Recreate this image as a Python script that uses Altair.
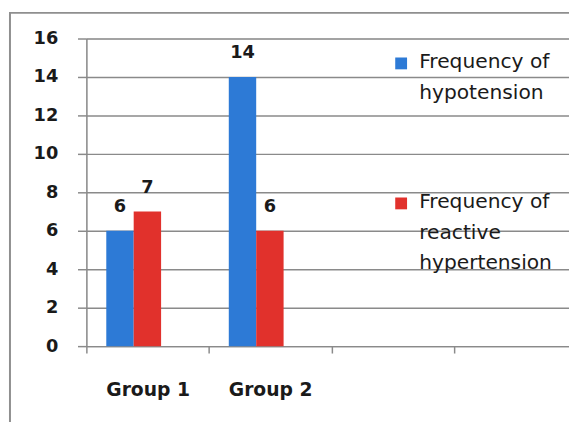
import altair as alt
import pandas as pd

# ---- data ----
groups = ["Group 1", "Group 2"]
x_domain = ["Group 1", "Group 2", " ", "  "]  # two empty category slots
series = ["Frequency of hypotension", "Frequency of reactive hypertension"]
hypotension = [6, 14]
reactive_hypertension = [7, 6]
y_ticks = [0, 2, 4, 6, 8, 10, 12, 14, 16]
colors = ["#2D7AD6", "#E1312C"]

rows = []
for g, a, b in zip(groups, hypotension, reactive_hypertension):
    rows.append({"group": g, "series": series[0], "value": a})
    rows.append({"group": g, "series": series[1], "value": b})
df = pd.DataFrame(rows)

FONT = "DejaVu Sans"
GRAY = "#8a8a8a"

x_enc = alt.X(
    "group:N",
    scale=alt.Scale(domain=x_domain, range=[0, 497], paddingInner=0, paddingOuter=0),
    axis=alt.Axis(
        title=None, labelAngle=0, tickBand="extent", grid=False,
        labelFont=FONT, labelFontSize=19, labelFontWeight="bold", labelColor="#1a1a1a",
        labelPadding=28, tickSize=7, tickColor=GRAY, tickWidth=1.5,
        domainColor=GRAY, domainWidth=1.5, labelBaseline="top",
    ),
)
# third (empty) offset slot reproduces the left-shifted cluster of the original
xoff_enc = alt.XOffset(
    "series:N",
    scale=alt.Scale(domain=series + ["_gap"], paddingInner=0, paddingOuter=0.735, align=0.494),
)
y_enc = alt.Y(
    "value:Q",
    scale=alt.Scale(domain=[0, 16], nice=False),
    axis=alt.Axis(
        title=None, values=y_ticks, tickCount=9, labelOverlap=False,
        grid=True, gridColor=GRAY, gridWidth=1.5,
        labelFont=FONT, labelFontSize=18, labelFontWeight="bold", labelColor="#1a1a1a",
        labelPadding=20, tickSize=9, tickColor=GRAY, tickWidth=1.5,
        domainColor=GRAY, domainWidth=1.5,
    ),
)

legend = alt.Legend(
    title=None, orient="none", legendX=309, legendY=20, padding=0,
    labelFont=FONT, labelFontSize=20.5, labelColor="#1a1a1a", labelLimit=400,
    labelOffset=8, labelBaseline="alphabetic", rowPadding=90,
    symbolType="M-1,-1.833H1V0.167H-1Z", symbolSize=144, symbolStrokeWidth=0,
    labelExpr=(
        "datum.label == 'Frequency of hypotension' ? ['Frequency of', 'hypotension']"
        " : ['Frequency of', 'reactive', 'hypertension']"
    ),
)

bars = alt.Chart(df).mark_bar().encode(
    x=x_enc,
    xOffset=xoff_enc,
    y=y_enc,
    color=alt.Color("series:N", scale=alt.Scale(domain=series, range=colors), legend=legend),
)

labels = alt.Chart(df).mark_text(
    font=FONT, fontSize=18, fontWeight="bold", color="#1a1a1a",
    baseline="alphabetic", dy=-19,
).encode(
    x=x_enc,
    xOffset=xoff_enc,
    y=y_enc,
    text=alt.Text("value:Q"),
)

frame = alt.Chart(pd.DataFrame({"f": [0]})).mark_rect(
    fillOpacity=0, stroke="#8f8f8f", strokeWidth=2
).encode(
    x=alt.value(-77.5), x2=alt.value(800), y=alt.value(-26), y2=alt.value(800)
)

chart = alt.layer(frame, bars, labels).properties(
    width=489.5,
    height=312,
    autosize=alt.AutoSizeParams(type="none"),
    padding={"left": 79.5, "top": 28, "right": 0, "bottom": 74},
    background="white",
).configure_view(stroke=None).configure(
    style={"guide-label": {"lineHeight": 31}}
)

chart.save("out.html", embed_options={"renderer": "svg", "actions": False})
